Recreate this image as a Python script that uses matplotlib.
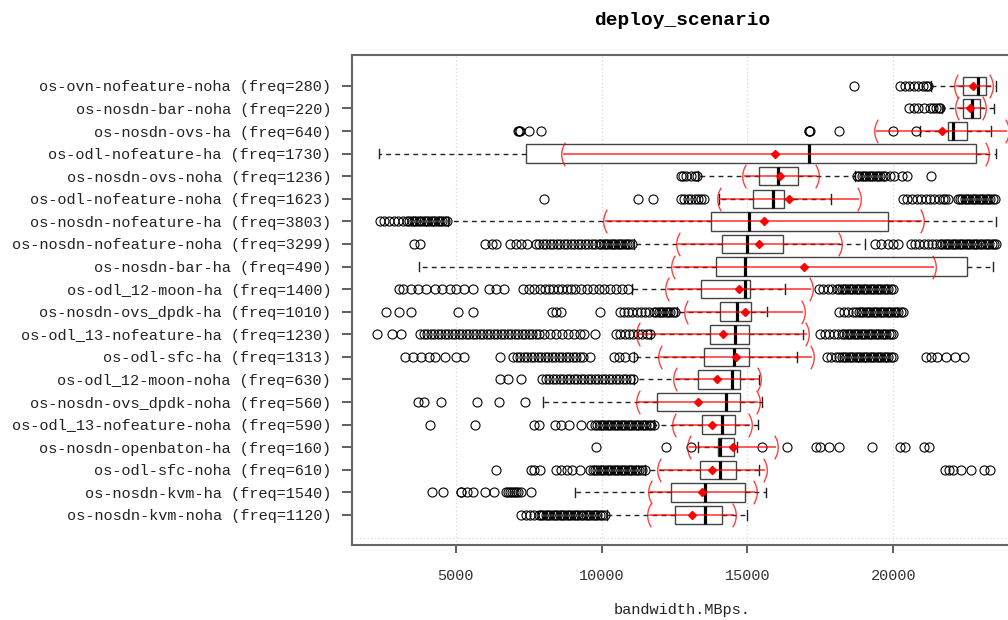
import numpy as np
import matplotlib.pyplot as plt
from matplotlib.path import Path

plt.rcParams['font.family'] = ['Liberation Mono', 'DejaVu Sans Mono']

# deploy scenarios, listed top to bottom
scenarios = ['os-ovn-nofeature-noha', 'os-nosdn-bar-noha', 'os-nosdn-ovs-ha',
             'os-odl-nofeature-ha', 'os-nosdn-ovs-noha', 'os-odl-nofeature-noha',
             'os-nosdn-nofeature-ha', 'os-nosdn-nofeature-noha', 'os-nosdn-bar-ha',
             'os-odl_12-moon-ha', 'os-nosdn-ovs_dpdk-ha', 'os-odl_13-nofeature-ha',
             'os-odl-sfc-ha', 'os-odl_12-moon-noha', 'os-nosdn-ovs_dpdk-noha',
             'os-odl_13-nofeature-noha', 'os-nosdn-openbaton-ha', 'os-odl-sfc-noha',
             'os-nosdn-kvm-ha', 'os-nosdn-kvm-noha']
freq = [280, 220, 640, 1730, 1236, 1623, 3803, 3299, 490, 1400,
        1010, 1230, 1313, 630, 560, 590, 160, 610, 1540, 1120]

whislo = [21300, 21650, 20920, 2370, 13310, 14030, 4750, 11100, 3740, 11030,
          12600, 11700, 11100, 11100, 7990, 11800, 13310, 11500, 9080, 10200]
q1 = [22380, 22380, 21870, 7410, 15380, 15190, 13740, 14130, 13930, 13420,
      14060, 13700, 13500, 13310, 11910, 13450, 13990, 13380, 12370, 12510]
median = [22900, 22700, 22040, 17110, 16050, 15870, 15040, 14970, 14930, 14900,
          14650, 14580, 14540, 14470, 14250, 14130, 14060, 14060, 13550, 13530]
q3 = [23160, 22950, 22530, 22820, 16730, 16240, 19810, 16200, 22530, 15070,
      15120, 15040, 15040, 14750, 14750, 14570, 14540, 14610, 14930, 14130]
whishi = [23500, 23450, 23330, 23520, 18700, 17860, 23500, 19020, 23420, 16300,
          15660, 16890, 16700, 15380, 15480, 15360, 14650, 15380, 15650, 15000]
mean = [22730, 22640, 21650, 15950, 16130, 16420, 15550, 15400, 16920, 14710,
        14900, 14150, 14610, 13960, 13310, 13770, 14490, 13790, 13450, 13090]
sd = [600, 460, 2250, 7260, 1240, 2410, 5420, 2780, 4480, 2460,
      1990, 2900, 2600, 1430, 2045, 1300, 1480, 1820, 1790, 1460]

fliers = [
    # os-ovn-nofeature-noha
    [18650, 20230, 20400, 20550, 20700, 20850, 21000, 21100, 21200],
    # os-nosdn-bar-noha
    [20520, 20700, 20850, 21050, 21250, 21350, 21450, 21550, 21600],
    # os-nosdn-ovs-ha
    [7150, 7180, 7200, 7500, 7930, 17100, 17120, 17140, 18150, 20000, 20780],
    # os-odl-nofeature-ha
    [],
    # os-nosdn-ovs-noha
    [12730, 12780, 12900, 13050, 13200, 13260,
     18750, 18830, 18910, 18990, 19070, 19150, 19230, 19310, 19390, 19470,
     19550, 19630, 19710, 19880, 20030, 20300, 20460, 21300],
    # os-odl-nofeature-noha
    [8035, 11260, 11760, 12730, 12830, 12950, 13080, 13200, 13300, 13420, 13520,
     20320, 20480, 20620, 20800, 20950, 21100, 21250, 21400, 21550, 21700,
     21780, 21860, 22200, 22280, 22360, 22440, 22520, 22600, 22680, 22760,
     22840, 22920, 23000, 23080, 23160, 23240, 23320, 23400, 23480],
    # os-nosdn-nofeature-ha
    [2400, 2560, 2720, 2880, 3040, 3200, 3350, 3420, 3500, 3580, 3660, 3740,
     3820, 3900, 3980, 4060, 4140, 4220, 4300, 4380, 4460, 4540, 4620, 4700],
    # os-nosdn-nofeature-noha
    [3560, 3770, 6010, 6230, 6370, 6880, 7060, 7250, 7460, 7750, 7870, 7990,
     8110, 8230, 8350, 8470, 8590, 8710, 8830, 8950, 9070, 9190, 9310, 9430,
     9550, 9670, 9790, 9910, 9990, 10070, 10150, 10230, 10310, 10390, 10470,
     10550, 10630, 10710, 10790, 10870, 10950, 11030,
     19380, 19560, 19800, 20000, 20170, 20610, 20750, 20890, 21030, 21170,
     21310, 21450, 21600, 21680, 21760, 21840, 21920, 22000, 22080, 22160,
     22240, 22320, 22400, 22480, 22560, 22640, 22720, 22800, 22880, 22960,
     23040, 23120, 23200, 23280, 23360, 23440, 23500],
    # os-nosdn-bar-ha
    [],
    # os-odl_12-moon-ha
    [3050, 3200, 3480, 3700, 4000, 4300, 4550, 4800, 5000, 5300, 5580, 6160,
     6400, 6660, 7310, 7500, 7700, 7900, 8050, 8200, 8350, 8500, 8650, 8800,
     8950, 9100, 9300, 9500, 9700, 9900, 10100, 10300, 10500, 10700, 10920,
     17460, 17600, 17750, 17900, 18050, 18150, 18230, 18310, 18390, 18470,
     18550, 18630, 18710, 18790, 18870, 18950, 19030, 19110, 19190, 19270,
     19350, 19430, 19510, 19590, 19670, 19750, 19830, 19910, 19990],
    # os-nosdn-ovs_dpdk-ha
    [2620, 3050, 3480, 5070, 5580, 8300, 8450, 8610, 9960, 10640, 10780,
     10920, 11060, 11200, 11340, 11480, 11620, 11800, 11880, 11960, 12040,
     12120, 12200, 12280, 12360, 12440, 12510,
     18150, 18300, 18450, 18600, 18730, 18810, 18890, 18970, 19050, 19130,
     19210, 19290, 19370, 19450, 19530, 19610, 19690, 19770, 19850, 19930,
     20010, 20090, 20170, 20250, 20320],
    # os-odl_13-nofeature-ha
    [2300, 2830, 3120, 3780, 3900, 4020, 4140, 4260, 4380, 4500, 4620, 4740,
     4860, 4980, 5100, 5220, 5340, 5460, 5580, 5700, 5820, 5940, 6060, 6180,
     6300, 6420, 6540, 6660, 6780, 6900, 7020, 7140, 7260, 7380, 7500, 7620,
     7740, 7860, 8030, 8250, 8450, 8650, 8850, 9050, 9250, 9410, 9770,
     10490, 10640, 10790, 10940, 11090, 11240, 11390, 11540, 11650,
     17500, 17650, 17800, 17950, 18100, 18250, 18320, 18400, 18480, 18560,
     18640, 18720, 18800, 18880, 18960, 19040, 19120, 19200, 19280, 19360,
     19440, 19520, 19600, 19680, 19760, 19840, 19920, 20000],
    # os-odl-sfc-ha
    [3270, 3550, 3800, 4100, 4300, 4650, 5000, 5290, 6520, 6950, 7100, 7220,
     7340, 7460, 7580, 7700, 7820, 7940, 8060, 8180, 8300, 8420, 8540, 8660,
     8780, 8900, 9020, 9140, 9260, 9380, 9620, 10420, 10600, 10800, 11070,
     17720, 17870, 18020, 18150, 18230, 18310, 18390, 18470, 18550, 18630,
     18710, 18790, 18870, 18950, 19030, 19110, 19190, 19270, 19350, 19430,
     19510, 19590, 19670, 19750, 19830, 19910, 19990,
     21110, 21300, 21500, 21800, 22100, 22410],
    # os-odl_12-moon-noha
    [6520, 6800, 7240, 7960, 8080, 8200, 8320, 8440, 8560, 8680, 8800, 8920,
     9040, 9160, 9280, 9400, 9520, 9640, 9760, 9880, 10000, 10120, 10240,
     10360, 10480, 10600, 10720, 10840, 10960, 11070],
    # os-nosdn-ovs_dpdk-noha
    [3700, 3900, 4490, 5720, 6470, 7380],
    # os-odl_13-nofeature-noha
    [4130, 5680, 7700, 7850, 8400, 8600, 8900, 9300, 9650, 9770, 9850, 9930,
     10010, 10090, 10170, 10250, 10330, 10410, 10490, 10570, 10650, 10730,
     10810, 10890, 10970, 11050, 11130, 11210, 11290, 11370, 11450, 11530,
     11610, 11690, 11790],
    # os-nosdn-openbaton-ha
    [9800, 12200, 13060, 15480, 16340, 17360, 17500, 17800, 18150, 19280,
     20240, 20390, 21040, 21210],
    # os-odl-sfc-noha
    [6370, 7570, 7700, 7890, 8440, 8600, 8800, 9000, 9260, 9620, 9700, 9780,
     9860, 9940, 10020, 10100, 10180, 10260, 10340, 10420, 10500, 10580,
     10660, 10740, 10820, 10900, 10980, 11060, 11140, 11220, 11300, 11380,
     11500, 21760, 21900, 22050, 22300, 22650, 23100, 23320],
    # os-nosdn-kvm-ha
    [4200, 4570, 5170, 5200, 5400, 5600, 6000, 6300, 6730, 6800, 6870, 6940,
     7010, 7080, 7150, 7240, 7570],
    # os-nosdn-kvm-noha
    [7240, 7400, 7550, 7700, 7850, 7930, 8010, 8090, 8170, 8250, 8330, 8410,
     8490, 8570, 8650, 8730, 8810, 8890, 8970, 9050, 9130, 9210, 9290, 9370,
     9450, 9530, 9610, 9690, 9770, 9850, 9930, 10010, 10130],
]

n = len(scenarios)
positions = [n - i for i in range(n)]
labels = ['%s (freq=%d)' % (s, f) for s, f in zip(scenarios, freq)]

stats = []
for i in range(n):
    stats.append(dict(whislo=whislo[i], q1=q1[i], med=median[i], q3=q3[i],
                      whishi=whishi[i], fliers=fliers[i]))

fig = plt.figure(figsize=(10.08, 6.2), dpi=100)
ax = fig.add_axes([0.3492, 0.121, 0.655, 0.790])

ax.bxp(stats, positions=positions, vert=False, widths=0.82, capwidths=0.42,
       patch_artist=True, manage_ticks=False,
       boxprops=dict(facecolor='white', edgecolor='#444444', linewidth=1.0),
       medianprops=dict(color='black', linewidth=2.3),
       whiskerprops=dict(color='#222222', linewidth=1.0, linestyle=(0, (3.5, 3))),
       capprops=dict(color='#222222', linewidth=1.0),
       flierprops=dict(marker='o', markerfacecolor='none', markeredgecolor='black',
                       markersize=6.5, markeredgewidth=0.8))

# bracket shaped end markers for the mean +/- sd bars
t = np.linspace(-1, 1, 21)
open_br = Path(np.column_stack([0.3 * t ** 2 - 0.15, t]))
close_br = Path(np.column_stack([0.15 - 0.3 * t ** 2, t]))

lo = [m - s for m, s in zip(mean, sd)]
hi = [m + s for m, s in zip(mean, sd)]
ax.hlines(positions, lo, hi, color='red', linewidth=1.2, alpha=0.75, zorder=4)
ax.plot(lo, positions, linestyle='none', marker=open_br, markersize=17,
        markerfacecolor='none', markeredgecolor='red', markeredgewidth=1.0,
        alpha=0.75, zorder=4)
ax.plot(hi, positions, linestyle='none', marker=close_br, markersize=17,
        markerfacecolor='none', markeredgecolor='red', markeredgewidth=1.0,
        alpha=0.75, zorder=4)
ax.plot(mean, positions, linestyle='none', marker='D', markersize=4.5,
        color='red', zorder=5)

ax.set_xlim(1450, 24070)
ax.set_ylim(-0.33, 21.36)
ax.set_xticks([5000, 10000, 15000, 20000])
ax.set_yticks(positions)
ax.set_yticklabels(labels)
ax.set_yticks([0, 5, 10, 15, 20], minor=True)

ax.grid(axis='x', color='#d8d8d8', linestyle=(0, (1, 2)), linewidth=0.9)
ax.grid(axis='y', which='minor', color='#d8d8d8', linestyle=(0, (1, 2)), linewidth=0.9)
ax.set_axisbelow(True)

ax.tick_params(axis='y', which='major', length=7, width=1.2, color='#444444',
               pad=8, labelsize=11, labelcolor='#222222')
ax.tick_params(axis='y', which='minor', length=0)
ax.tick_params(axis='x', length=6, width=1.2, color='#444444', pad=11,
               labelsize=11, labelcolor='#333333')

for side in ['left', 'bottom', 'top']:
    ax.spines[side].set_color('#666666')
    ax.spines[side].set_linewidth(1.5)
ax.spines['right'].set_visible(False)

ax.set_xlabel('bandwidth.MBps.', fontsize=11, color='#222222', labelpad=15)
ax.set_title('deploy_scenario', fontsize=14, fontweight='bold', pad=22)

fig.savefig('out.png', dpi=100)
